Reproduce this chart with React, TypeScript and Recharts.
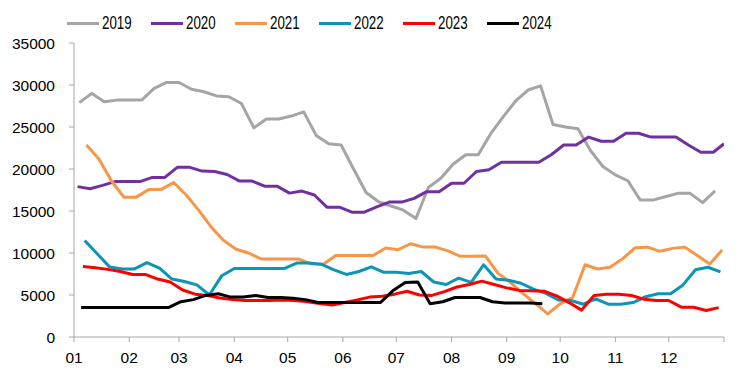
import React from 'react';
import { LineChart, Line, XAxis, YAxis, Legend } from 'recharts';

// Weekly series, one value per week
const years = ['2019', '2020', '2021', '2022', '2023', '2024'];
const colors = ['#A5A5A5', '#7030A0', '#F79646', '#0E94B5', '#FF0000', '#000000'];
// day-of-year (0-based) of the first weekly observation of each year
const firstDays = [3, 2, 7, 6, 5, 4];

const v2019 = [27900, 29000, 28000, 28200, 28200, 28200, 29600, 30300, 30300, 29500, 29200, 28700, 28600, 27800,
  24900, 25950, 25950, 26300, 26800, 24000, 23000, 22850, 20000, 17200, 16100, 15600, 15100, 14100, 17800, 18900,
  20600, 21700, 21700, 24200, 26200, 28100, 29400, 29900, 25300, 25000, 24800, 22200, 20300, 19300, 18600, 16300,
  16300, 16700, 17100, 17100, 16000, 17400];
const v2020 = [17900, 17650, 18050, 18500, 18500, 18500, 19000, 19000, 20200, 20200, 19750, 19700, 19350, 18560,
  18560, 17960, 17960, 17130, 17370, 16900, 15460, 15460, 14860, 14860, 15500, 16060, 16060, 16500, 17300, 17300,
  18300, 18300, 19700, 19900, 20800, 20800, 20800, 20800, 21700, 22850, 22850, 23800, 23300, 23300, 24250, 24250,
  23800, 23800, 23800, 22850, 22000, 22000, 23000];
const v2021 = [22850, 21200, 18600, 16650, 16650, 17570, 17570, 18400, 16900, 15100, 13100, 11500, 10450, 10000,
  9300, 9300, 9300, 9300, 8700, 8650, 9700, 9700, 9700, 9700, 10600, 10400, 11100, 10700, 10700, 10250, 9600, 9600,
  9650, 7600, 6500, 5200, 4000, 2750, 3950, 4700, 8600, 8100, 8300, 9300, 10600, 10700, 10200, 10550, 10700, 9700,
  8700, 10350];
const v2022 = [11500, 9900, 8350, 8100, 8100, 8850, 8200, 6900, 6600, 6200, 5000, 7300, 8150, 8150, 8150, 8150,
  8150, 8800, 8800, 8650, 8000, 7450, 7800, 8350, 7700, 7700, 7550, 7800, 6550, 6250, 7000, 6500, 8600, 6900, 6750,
  6400, 5700, 5200, 4400, 4350, 3900, 4550, 3900, 3900, 4100, 4800, 5150, 5150, 6200, 8000, 8300, 7750];
const v2023 = [8400, 8250, 8050, 7800, 7450, 7450, 6900, 6550, 5600, 5100, 4950, 4650, 4450, 4350, 4350, 4350,
  4400, 4350, 4200, 4000, 3800, 4100, 4400, 4750, 4850, 5100, 5450, 5000, 4950, 5400, 5950, 6250, 6650, 6250, 5850,
  5550, 5500, 5450, 4900, 4100, 3200, 4950, 5100, 5100, 4950, 4500, 4350, 4350, 3550, 3550, 3150, 3500];
const v2024 = [3500, 3500, 3500, 3500, 3500, 3500, 3500, 3500, 4200, 4450, 4950, 5150, 4750, 4750, 4950, 4700,
  4700, 4600, 4450, 4100, 4100, 4100, 4100, 4100, 4100, 5500, 6500, 6550, 3950, 4200, 4700, 4700, 4700, 4200, 4050,
  4050, 4050, 3950];
const allValues = [v2019, v2020, v2021, v2022, v2023, v2024];

const monthLabels = ['01', '02', '03', '04', '05', '06', '07', '08', '09', '10', '11', '12', ''];
const monthStartDays = [0, 31, 59, 90, 120, 151, 181, 212, 243, 273, 304, 334, 365];
const yTicks = [0, 5000, 10000, 15000, 20000, 25000, 30000, 35000];

const seriesData = allValues.map((vals, k) =>
  vals.map((v, i) => ({ day: Math.min(firstDays[k] + 7 * i, 365), value: v }))
);

const FONT = '"Liberation Sans", Arial, sans-serif';

const renderLegend = () => (
  <div style={{ position: 'relative', height: 26, width: 751, fontFamily: FONT }}>
    {years.map((y, i) => (
      <div key={y} style={{ position: 'absolute', left: 67 + 84 * i, top: 0, height: 26 }}>
        <div style={{ position: 'absolute', left: 0, top: 12, width: 32, height: 3, background: colors[i] }} />
        <span
          style={{
            position: 'absolute', left: 35, top: 0, fontSize: 18, lineHeight: '26px', color: '#000',
            display: 'inline-block', transform: 'scaleX(0.74)', transformOrigin: 'left center', whiteSpace: 'nowrap',
          }}
        >
          {y}
        </span>
      </div>
    ))}
  </div>
);

export default function App() {
  return (
    <div style={{ position: 'absolute', left: 0, top: 0, width: 751, height: 384, background: '#fff' }}>
      <LineChart width={751} height={384} margin={{ top: 17, right: 27, bottom: 17, left: 0 }}>
        <XAxis
          type="number"
          dataKey="day"
          domain={[0, 365]}
          ticks={monthStartDays}
          tickFormatter={(d: number) => monthLabels[monthStartDays.indexOf(d)]}
          allowDataOverflow
          height={30}
          stroke="#A6A6A6"
          tickSize={5}
          tickMargin={10}
          tick={{ fill: '#000', fontSize: 15.5, fontFamily: FONT }}
          interval={0}
        />
        <YAxis
          type="number"
          domain={[0, 35000]}
          ticks={yTicks}
          width={74}
          stroke="#A6A6A6"
          tickSize={5}
          tickMargin={14}
          tick={{ fill: '#000', fontSize: 15.5, fontFamily: FONT }}
          interval={0}
        />
        <Legend verticalAlign="top" align="left" wrapperStyle={{ top: 10, left: 0 }} content={renderLegend} />
        {years.map((y, i) => (
          <Line
            key={y}
            name={y}
            data={seriesData[i]}
            dataKey="value"
            type="linear"
            stroke={colors[i]}
            strokeWidth={3}
            strokeLinejoin="round"
            dot={false}
            activeDot={false}
            isAnimationActive={false}
          />
        ))}
      </LineChart>
    </div>
  );
}
